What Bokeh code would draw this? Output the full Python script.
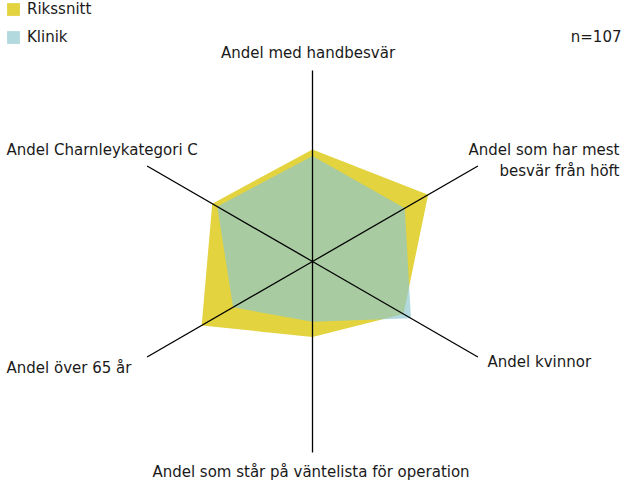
import math
from bokeh.plotting import figure
from bokeh.models import Range1d, Label, Legend, LegendItem
from bokeh.embed import file_html
from bokeh.resources import INLINE

# ---- data ----
categories = ["Andel med handbesvär", "Andel som har mest besvär från höft", "Andel kvinnor",
              "Andel som står på väntelista för operation", "Andel över 65 år", "Andel Charnleykategori C"]
angles_deg = [90, 30, -30, -90, 210, 150]
rikssnitt = [58.6, 69.9, 55.0, 39.5, 67.0, 60.6]
klinik = [55.3, 55.8, 59.5, 31.6, 48.0, 57.6]
axis_max = 100
n_text = "n=107"
series_names = ["Rikssnitt", "Klinik"]

# ---- layout ----
W, H = 621, 480
K = 1.91            # px per unit
OX, OY = 12, 11     # shift from reference pixels to figure pixels
CXF, CYF = 324 - OX, 272 - OY  # centre in figure px (from left / top)

p = figure(width=W, height=H, output_backend="svg", toolbar_location=None,
           x_range=Range1d(-CXF / K, (W - CXF) / K),
           y_range=Range1d(-(H - CYF) / K, CYF / K),
           min_border=0, min_border_left=0, min_border_right=0,
           min_border_top=0, min_border_bottom=0)
p.axis.visible = False
p.grid.visible = False
p.outline_line_color = None
p.background_fill_color = "white"
p.border_fill_color = "white"


def pt(px, py):
    """reference pixel -> data coords"""
    return ((px - OX - CXF) / K, (CYF - (py - OY)) / K)


def poly(vals):
    xs = [v * math.cos(math.radians(a)) for v, a in zip(vals, angles_deg)]
    ys = [v * math.sin(math.radians(a)) for v, a in zip(vals, angles_deg)]
    return xs, ys


xr, yr = poly(rikssnitt)
xk, yk = poly(klinik)
r1 = p.patch(xr, yr, fill_color="#E3D33F", line_color=None)
r2 = p.patch(xk, yk, fill_color="#8EC8CF", fill_alpha=0.69, line_color=None)

for a in angles_deg:
    p.line([0, axis_max * math.cos(math.radians(a))], [0, axis_max * math.sin(math.radians(a))],
           line_color="black", line_width=1.3)

FONT = "DejaVu Sans"
FS = "15px"
TC = "#1a1a1a"


def lab(text, px, py, align):
    x, y = pt(px, py)
    p.add_layout(Label(x=x, y=y, text=text, text_align=align, text_baseline="middle",
                       text_font=FONT, text_font_size=FS, text_color=TC))


lab("Andel med handbesvär", 319.5, 63, "center")
lab("Andel som har mest", 631, 160, "right")
lab("besvär från höft", 631, 181, "right")
lab("Andel kvinnor", 499, 372, "left")
lab("Andel som står på väntelista för operation", 322.5, 482, "center")
lab("Andel över 65 år", 18, 378, "left")
lab("Andel Charnleykategori C", 18, 160, "left")
lab(n_text, 633, 47, "right")

legend = Legend(items=[LegendItem(label=series_names[0], renderers=[r1]),
                       LegendItem(label=series_names[1], renderers=[r2])],
                location=(17 - OX, H - (15 - OY) - 42), padding=0, margin=0, spacing=10,
                glyph_width=16, glyph_height=16, label_height=16, label_standoff=6,
                label_text_font=FONT, label_text_font_size=FS, label_text_color=TC,
                border_line_color=None, background_fill_alpha=0)
p.add_layout(legend)

open("out.html", "w").write(file_html(p, INLINE))
